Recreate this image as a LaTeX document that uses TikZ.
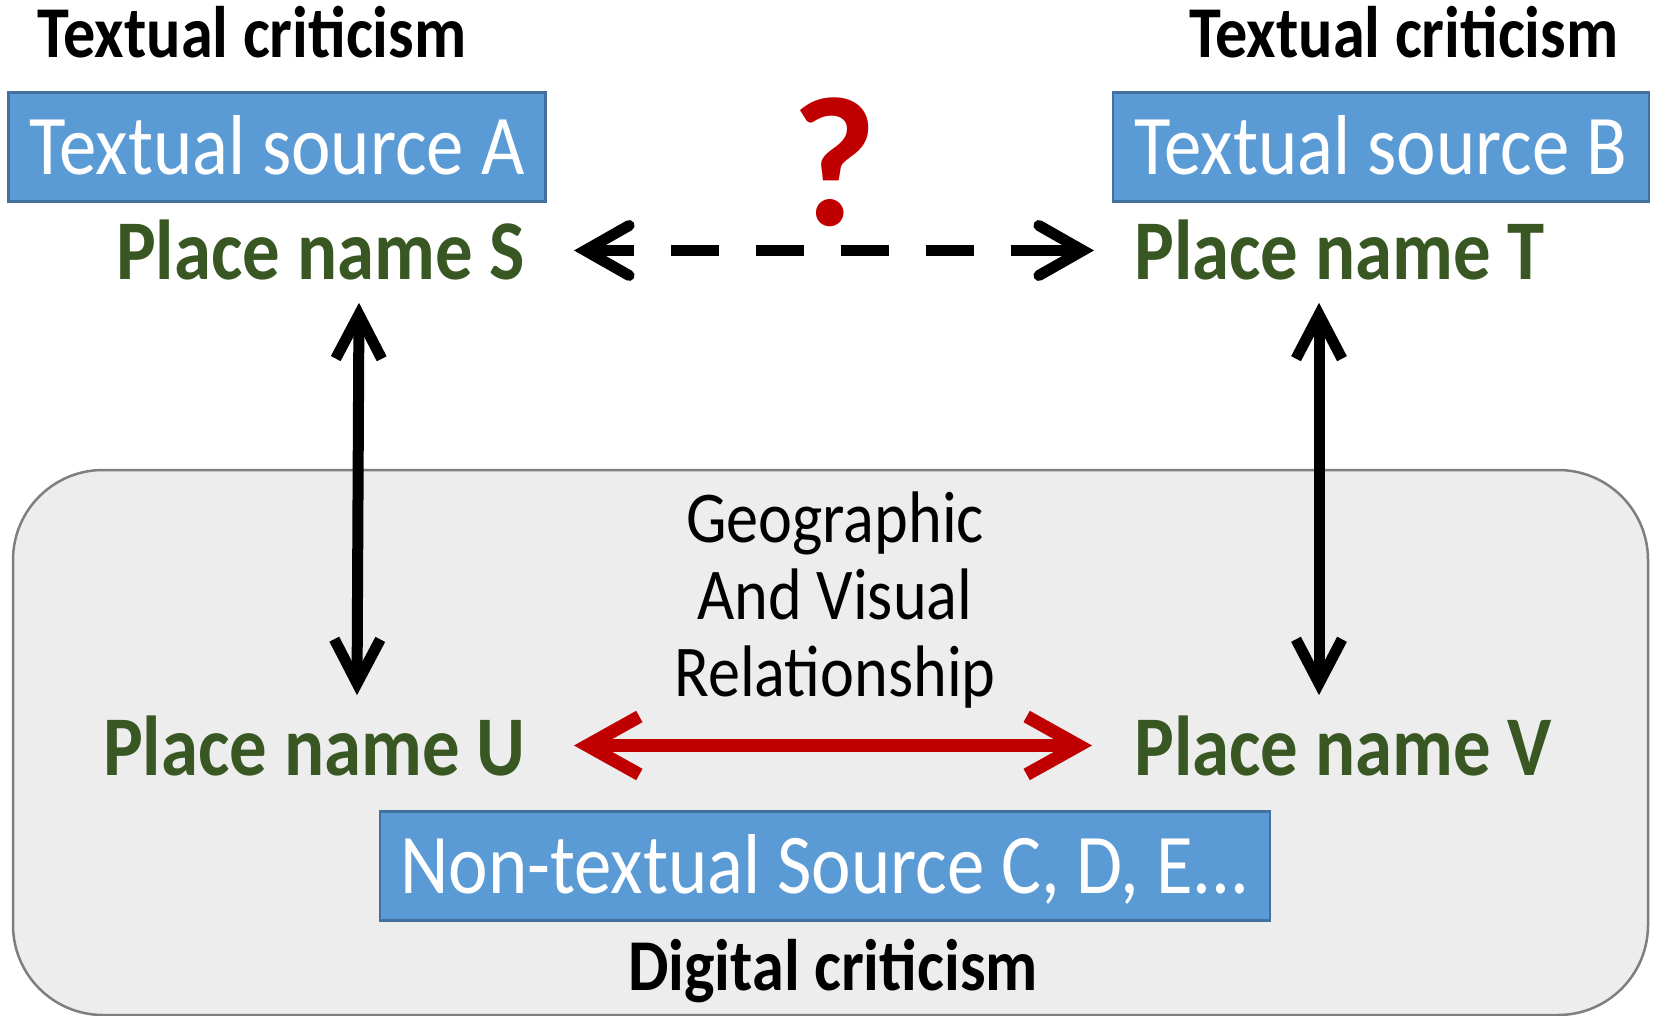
\documentclass[tikz,border=0pt]{standalone}
\usepackage{fontspec}
\setmainfont{Carlito}[FakeStretch=0.88]
\newfontfamily\qfont{Carlito}
\usetikzlibrary{arrows.meta}
\definecolor{boxblue}{HTML}{5B9BD5}
\definecolor{boxedge}{HTML}{41719C}
\definecolor{placegreen}{HTML}{385723}
\definecolor{darkred}{HTML}{C00000}
\definecolor{panelgray}{HTML}{EDEDED}
\definecolor{paneledge}{HTML}{7F7F7F}
\tikzset{
  heading/.style={inner sep=0pt, anchor=base west, font=\fontsize{73}{80}\selectfont\bfseries},
  place/.style={inner sep=0pt, anchor=base west, text=placegreen, font=\fontsize{85}{90}\selectfont\bfseries},
  srcbox/.style={draw=boxedge, line width=2.5pt, fill=boxblue, text=white, inner sep=0pt,
    font=\fontsize{85}{90}\selectfont, text height=55pt, text depth=0pt},
  blkarrow/.style={line width=11pt, line cap=round, line join=round,
    {Straight Barb[length=44pt,width=46pt]}-{Straight Barb[length=44pt,width=46pt]}},
  redarrow/.style={draw=darkred, line width=13pt, line cap=round, line join=round,
    {Straight Barb[length=52pt,width=58pt]}-{Straight Barb[length=52pt,width=58pt]}},
  dasharrow/.style={line width=11pt, line join=round,
    {Straight Barb[length=44pt,width=50pt,line cap=round]}-{Straight Barb[length=44pt,width=50pt,line cap=round]},
    dash pattern=on 43pt off 37pt on 48pt off 37pt on 48pt off 37pt on 48pt off 37pt on 48pt off 37pt on 200pt},
}
\begin{document}
\begin{tikzpicture}[x=1pt, y=-1pt]
\useasboundingbox (0,0) rectangle (1657,1016);
\begin{scope}
\clip (0,0) rectangle (1657,1016);
\draw[fill=panelgray, draw=paneledge, line width=2.5pt, rounded corners=90pt] (13,470) rectangle (1648,1015);
\end{scope}

% headings
\node[heading] (tcA) at (37,58) {Textual criticism};
\node[heading] (tcB) at (1189,58) {Textual criticism};

% source boxes
\node[srcbox, minimum width=537pt, minimum height=109pt] (srcA) at (277,147) {Textual source A};
\node[srcbox, minimum width=536pt, minimum height=109pt] (srcB) at (1381,147) {Textual source B};
\node[srcbox, minimum width=890pt, minimum height=109pt] (srcC) at (825,866) {Non-textual Source C, D, E...};

% place names
\node[place] (S) at (116,280) {Place name S};
\node[place] (T) at (1134,280) {Place name T};
\node[place] (U) at (103,775) {Place name U};
\node[place] (V) at (1134,775) {Place name V};

% question mark
\node[inner sep=0pt, anchor=base, text=darkred, font=\fontsize{185}{185}\qfont\bfseries] (q) at (834,226) {?};

% relationship label
\node[inner sep=0pt, align=center, font=\fontsize{73}{77}\selectfont] (geo) at (835,600) {Geographic\\And Visual\\Relationship};

% digital criticism
\node[heading, anchor=base] (dc) at (833,990) {Digital criticism};

% connectors
\draw[dasharrow] ([xshift=458pt]S.west) -- ([xshift=-40pt]T.west);
\draw[blkarrow] ([xshift=243pt,yshift=-22pt]S.south west) -- ([xshift=254pt,yshift=20pt]U.north west);
\draw[blkarrow] ([xshift=185pt,yshift=-22pt]T.south west) -- ([xshift=185pt,yshift=20pt]V.north west);
\draw[redarrow] ([xshift=471pt]U.west) -- ([xshift=-42pt]V.west);
\end{tikzpicture}
\end{document}
